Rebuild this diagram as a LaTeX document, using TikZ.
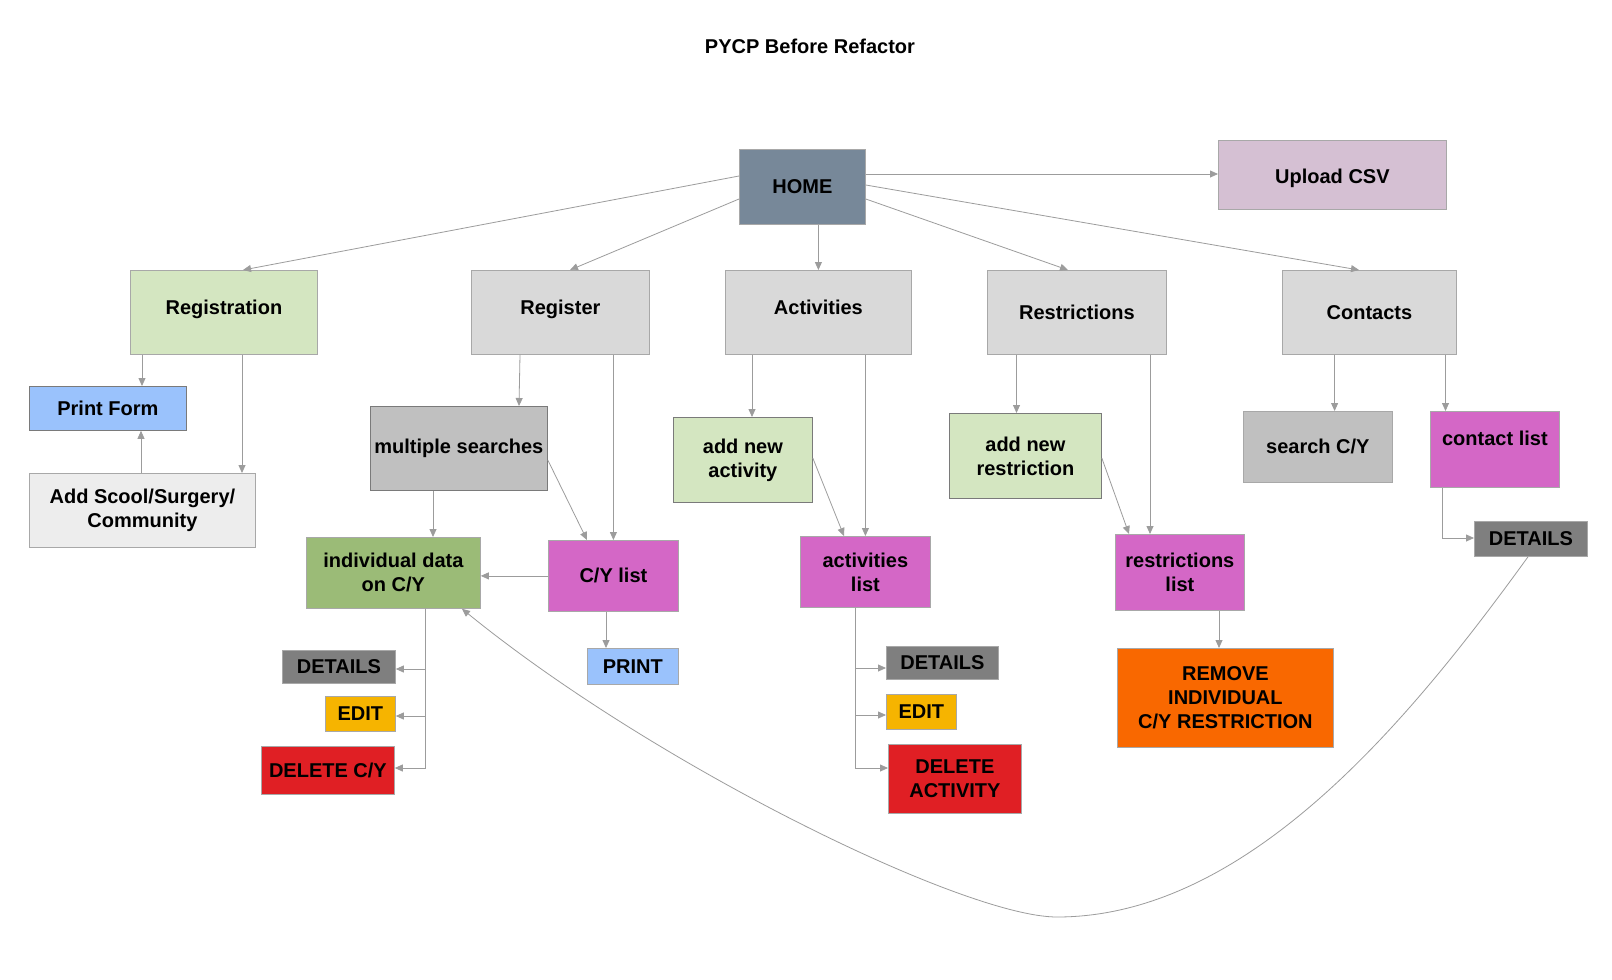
\documentclass[tikz,border=0pt]{standalone}
\usepackage{fontspec}
\setmainfont{Liberation Sans}
\usetikzlibrary{arrows.meta}
\definecolor{bordc}{HTML}{A8A8A8}
\definecolor{darkbord}{HTML}{7A7A7A}
\definecolor{linec}{HTML}{9C9C9C}
\definecolor{chome}{HTML}{778899}
\definecolor{cupload}{HTML}{D5C0D3}
\definecolor{cgreen}{HTML}{D4E6C1}
\definecolor{cpanel}{HTML}{D9D9D9}
\definecolor{cblue}{HTML}{9AC2FC}
\definecolor{cadd}{HTML}{EDEDED}
\definecolor{csilver}{HTML}{C0C0C0}
\definecolor{cind}{HTML}{9BBB77}
\definecolor{cmag}{HTML}{D467C6}
\definecolor{cdet}{HTML}{7F7F7F}
\definecolor{cedit}{HTML}{F6B400}
\definecolor{cdel}{HTML}{E01F24}
\definecolor{crem}{HTML}{F96800}
\begin{document}
\begin{tikzpicture}[x=1pt,y=-1pt,
  txt/.style={font=\fontsize{20}{24}\selectfont\bfseries},
  box/.style={txt, draw=bordc, line width=0.8pt, anchor=north west, align=center, inner sep=2pt},
  sz/.style 2 args={minimum width=#1pt, minimum height=#2pt},
  arr/.style={draw=linec, line width=0.8pt, -{Triangle[length=8pt,width=7pt]}}
]
\useasboundingbox (0,0) rectangle (1612,980);
\fill[white] (0,0) rectangle (1612,980);

\node[txt] (title) at (810,46) {PYCP Before Refactor};

% top level
\node[box, fill=chome, sz={126}{75}] (home) at (739,149) {HOME};
\node[box, fill=cupload, sz={228}{69}, text height=23pt, text depth=5pt] (upload) at (1218,140) {Upload CSV};
\node[box, fill=cgreen, sz={187}{84}, text depth=10pt] (reg) at (130,270) {Registration};
\node[box, fill=cpanel, sz={178}{84}, text depth=10pt] (register) at (471,270) {Register};
\node[box, fill=cpanel, sz={186}{84}, text depth=10pt] (act) at (725,270) {Activities};
\node[box, fill=cpanel, sz={179}{84}] (res) at (987,270) {Restrictions};
\node[box, fill=cpanel, sz={174}{84}] (con) at (1282,270) {Contacts};

% registration branch
\node[box, fill=cblue, draw=darkbord, sz={157}{44}] (pf) at (29,386) {Print Form};
\node[box, fill=cadd, sz={226}{74}] (add) at (29,473) {Add Scool/Surgery/\\Community};

% register branch
\node[box, fill=csilver, draw=darkbord, sz={177}{84}] (ms) at (370,406) {multiple searches};
\node[box, fill=cind, sz={174}{71}] (ind) at (306,537) {individual data\\on C/Y};
\node[box, fill=cmag, sz={130}{71}] (cy) at (548,540) {C/Y list};
\node[box, fill=cblue, sz={91}{36}] (print) at (587,648) {PRINT};
\node[box, fill=cdet, sz={113}{33}] (det1) at (282,650) {DETAILS};
\node[box, fill=cedit, sz={70}{35}] (edit1) at (325,696) {EDIT};
\node[box, fill=cdel, sz={133}{48}] (del1) at (261,746) {DELETE C/Y};

% activities branch
\node[box, fill=cgreen, draw=darkbord, sz={139}{85}] (ana) at (673,417) {add new\\activity};
\node[box, fill=cmag, sz={130}{71}] (al) at (800,536) {activities\\list};
\node[box, fill=cdet, sz={112}{33}] (det2) at (886,646) {DETAILS};
\node[box, fill=cedit, sz={70}{35}] (edit2) at (886,694) {EDIT};
\node[box, fill=cdel, sz={133}{69}] (del2) at (888,744) {DELETE\\ACTIVITY};

% restrictions branch
\node[box, fill=cgreen, draw=darkbord, sz={152}{85}] (anr) at (949,413) {add new\\restriction};
\node[box, fill=cmag, sz={129}{76}] (rl) at (1115,534) {restrictions\\list};
\node[box, fill=crem, sz={216}{99}] (rem) at (1117,648) {REMOVE\\INDIVIDUAL\\C/Y RESTRICTION};

% contacts branch
\node[box, fill=csilver, sz={149}{71}] (scy) at (1243,411) {search C/Y};
\node[box, fill=cmag, sz={129}{76}, text depth=23pt] (cl) at (1430,411) {contact list};
\node[box, fill=cdet, sz={113}{35}] (det3) at (1474,521) {DETAILS};

% connectors from HOME
\draw[arr] ([yshift=-25pt]home.north east) -- ([yshift=-25pt]home.north east -| upload.west);
\draw[arr] ([yshift=-27pt]home.north west) -- ([xshift=113pt]reg.north west);
\draw[arr] ([yshift=-50pt]home.north west) -- ([xshift=99pt]register.north west);
\draw[arr] (act.north |- home.south) -- (act.north);
\draw[arr] ([yshift=-50pt]home.north east) -- ([xshift=81pt]res.north west);
\draw[arr] ([yshift=-36pt]home.north east) -- ([xshift=77pt]con.north west);

% registration
\draw[arr] ([xshift=12pt]reg.south west) -- ([xshift=12pt]reg.south west |- pf.north);
\draw[arr] ([xshift=112pt]reg.south west) -- ([xshift=112pt]reg.south west |- add.north);
\draw[arr] ([xshift=112pt]add.north west) -- ([xshift=112pt]add.north west |- pf.south);

% register
\draw[arr] ([xshift=49pt]register.south west) -- ([xshift=149pt]ms.north west);
\draw[arr] (cy.north |- register.south) -- (cy.north);
\draw[arr] ([yshift=-54pt]ms.north east) -- ([xshift=39pt]cy.north west);
\draw[arr] ([xshift=63pt]ms.south west) -- ([xshift=63pt]ms.south west |- ind.north);
\draw[arr] (cy.west) -- (cy.west -| ind.east);
\draw[arr] ([xshift=58pt]cy.south west) -- ([xshift=58pt]cy.south west |- print.north);
\draw[arr] ([xshift=119pt]ind.south west) |- ([yshift=-19pt]det1.north east);
\draw[arr] ([xshift=119pt]ind.south west) |- ([yshift=-20pt]edit1.north east);
\draw[arr] ([xshift=119pt]ind.south west) |- ([yshift=-22pt]del1.north east);

% activities
\draw[arr] ([xshift=27pt]act.south west) -- ([xshift=27pt]act.south west |- ana.north);
\draw[arr] (al.north |- act.south) -- (al.north);
\draw[arr] ([yshift=-41pt]ana.north east) -- ([xshift=44pt]al.north west);
\draw[arr] ([xshift=55pt]al.south west) |- ([yshift=-22pt]det2.north west);
\draw[arr] ([xshift=55pt]al.south west) |- ([yshift=-21pt]edit2.north west);
\draw[arr] ([xshift=55pt]al.south west) |- ([yshift=-24pt]del2.north west);

% restrictions
\draw[arr] ([xshift=29.5pt]res.south west) -- ([xshift=29.5pt]res.south west |- anr.north);
\draw[arr] ([xshift=163pt]res.south west) -- ([xshift=163pt]res.south west |- rl.north);
\draw[arr] ([yshift=-45pt]anr.north east) -- ([xshift=14pt]rl.north west);
\draw[arr] ([xshift=104pt]rl.south west) -- ([xshift=104pt]rl.south west |- rem.north);

% contacts
\draw[arr] ([xshift=52.6pt]con.south west) -- ([xshift=52.6pt]con.south west |- scy.north);
\draw[arr] ([xshift=163.5pt]con.south west) -- ([xshift=163.5pt]con.south west |- cl.north);
\draw[arr] ([xshift=12pt]cl.south west) |- ([yshift=-17pt]det3.north west);

% long curve back to individual data
\coordinate (cbot) at (1057,917);
\draw[arr] ([xshift=54pt]det3.south west) .. controls (1410,720) and (1248,917) .. (cbot)
  .. controls (964.5,917) and (654.5,765.5) .. ([xshift=156pt]ind.south west);
\end{tikzpicture}
\end{document}
